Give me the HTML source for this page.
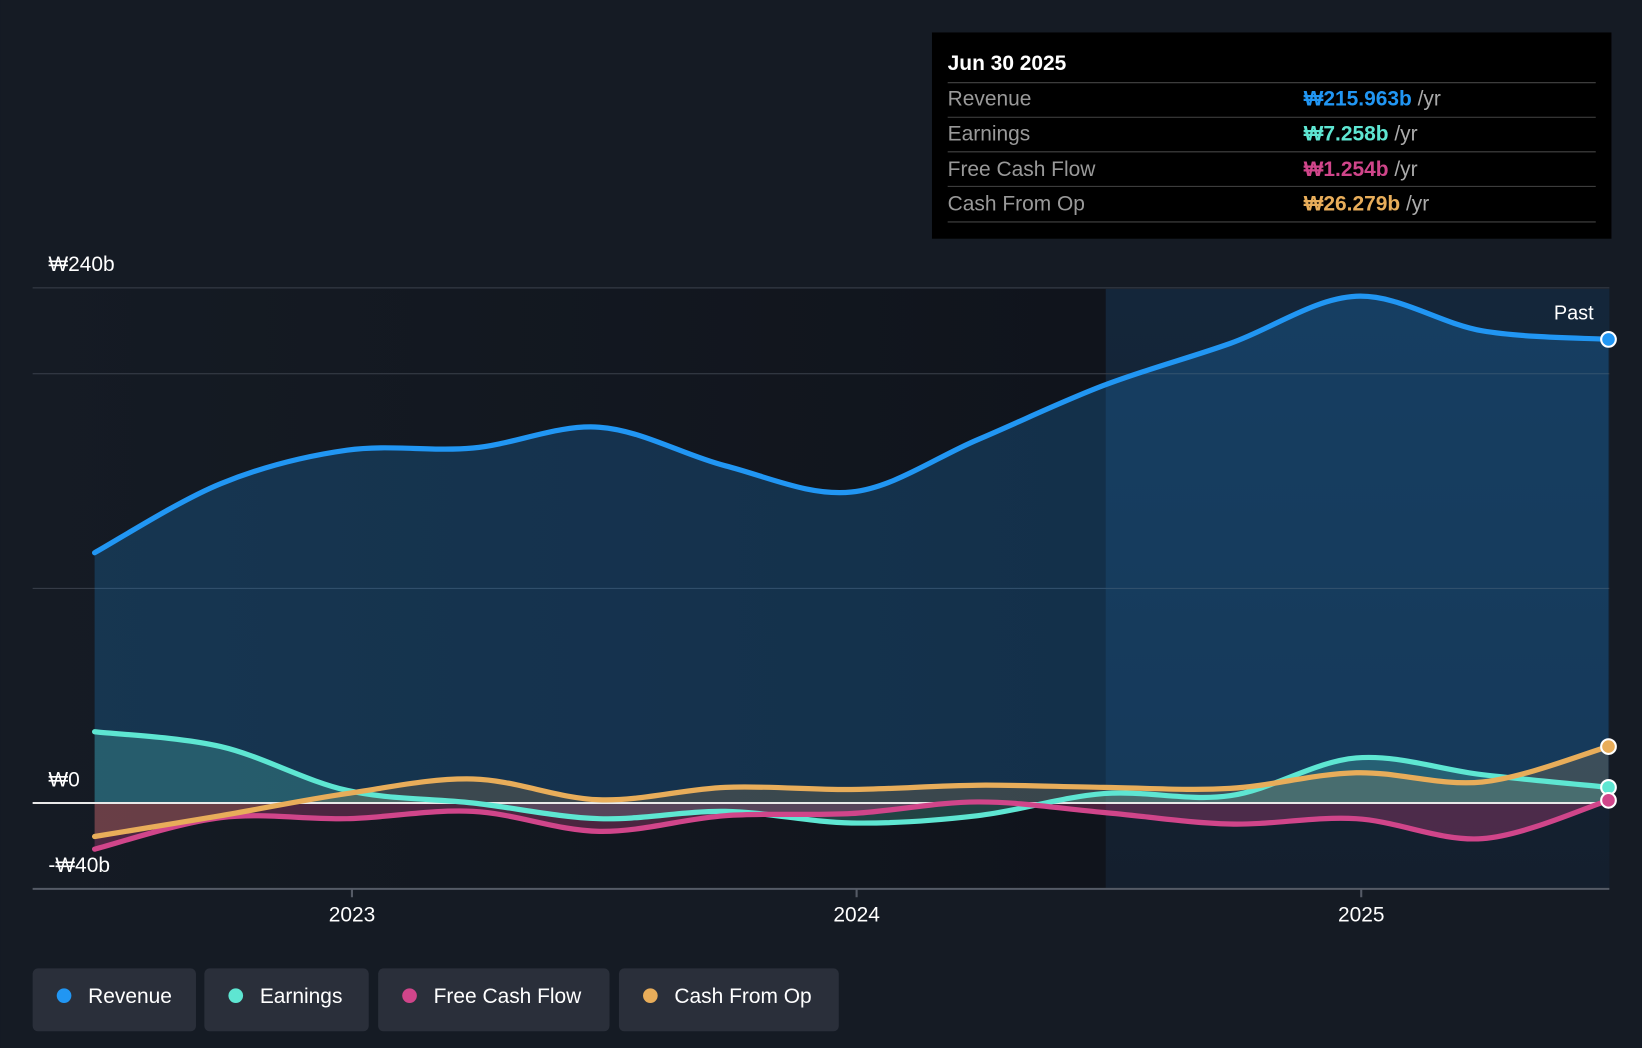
<!DOCTYPE html>
<html><head><meta charset="utf-8"><style>
html,body{margin:0;padding:0;background:#151b24;}
svg{display:block;font-family:"Liberation Sans",sans-serif;}
</style></head><body>
<svg id="chart" width="1642" height="1048" viewBox="0 0 1568 1001" xmlns="http://www.w3.org/2000/svg">
<defs>
<linearGradient id="pastBg" x1="0" x2="0" y1="0" y2="1"><stop offset="0" stop-color="#123150"/><stop offset="1" stop-color="#122338"/></linearGradient>
<linearGradient id="leftBg" x1="0" x2="1" y1="0" y2="0"><stop offset="0" stop-color="#151b24"/><stop offset="1" stop-color="#10141c"/></linearGradient>
</defs>
<rect width="1568" height="1001" fill="#151b24"/>
<rect x="31" y="276" width="1025" height="573" fill="url(#leftBg)"/>
<rect x="1056" y="276" width="481" height="573" fill="url(#pastBg)" opacity="0.5"/>
<g id="grid"></g>
<g id="areas"></g>
<g id="lines"></g>
<g id="axis"></g>
<text x="1522" y="305" fill="#fff" font-size="19" text-anchor="end">Past</text>
<g>
<rect x="890" y="31" width="649" height="197" fill="#000"/>
<text x="905" y="67" fill="#fff" font-size="20" font-weight="bold">Jun 30 2025</text>
<line x1="905" x2="1524" y1="79" y2="79" stroke="#444"/>
<text x="905" y="101" fill="#999" font-size="20">Revenue</text>
<text x="1245" y="101" font-size="20"><tspan fill="#2196f3" font-weight="bold">₩215.963b</tspan><tspan fill="#aaa"> /yr</tspan></text>
<line x1="905" x2="1524" y1="112" y2="112" stroke="#444"/>
<text x="905" y="134" fill="#999" font-size="20">Earnings</text>
<text x="1245" y="134" font-size="20"><tspan fill="#5ee6d2" font-weight="bold">₩7.258b</tspan><tspan fill="#aaa"> /yr</tspan></text>
<line x1="905" x2="1524" y1="145" y2="145" stroke="#444"/>
<text x="905" y="168" fill="#999" font-size="20">Free Cash Flow</text>
<text x="1245" y="168" font-size="20"><tspan fill="#d0458a" font-weight="bold">₩1.254b</tspan><tspan fill="#aaa"> /yr</tspan></text>
<line x1="905" x2="1524" y1="178" y2="178" stroke="#444"/>
<text x="905" y="201" fill="#999" font-size="20">Cash From Op</text>
<text x="1245" y="201" font-size="20"><tspan fill="#e8ad5a" font-weight="bold">₩26.279b</tspan><tspan fill="#aaa"> /yr</tspan></text>
<line x1="905" x2="1524" y1="212" y2="212" stroke="#444"/>
</g>
<g>
<g><rect x="31" y="925" width="156" height="60" rx="5" fill="#2a2f3a"/><circle cx="61" cy="951" r="7" fill="#2196f3"/><text x="84" y="958" fill="#fff" font-size="20">Revenue</text></g>
<g><rect x="195" y="925" width="157" height="60" rx="5" fill="#2a2f3a"/><circle cx="225" cy="951" r="7" fill="#5ee6d2"/><text x="248" y="958" fill="#fff" font-size="20">Earnings</text></g>
<g><rect x="361" y="925" width="221" height="60" rx="5" fill="#2a2f3a"/><circle cx="391" cy="951" r="7" fill="#d0458a"/><text x="414" y="958" fill="#fff" font-size="20">Free Cash Flow</text></g>
<g><rect x="591" y="925" width="210" height="60" rx="5" fill="#2a2f3a"/><circle cx="621" cy="951" r="7" fill="#e8ad5a"/><text x="644" y="958" fill="#fff" font-size="20">Cash From Op</text></g>
</g>
</svg>
<script>
const periods=[2022.49,2022.74,2022.99,2023.24,2023.49,2023.74,2023.99,2024.24,2024.49,2024.74,2024.99,2025.24,2025.49];
const revenue=[116.6,148.8,164.4,165.4,175.1,157.1,144.9,169.3,194.6,214.1,236.1,220,216];
const earnings=[33.2,26.3,5.9,0,-7.3,-3.9,-9.3,-5.9,4.4,3.4,21,13.2,7.3];
const fcf=[-21.5,-6.8,-7.3,-3.9,-13.2,-5.9,-4.9,0.5,-4.4,-9.8,-7.3,-16.6,1.25];
const cfo=[-15.6,-5.9,4.4,11.2,1.5,7.3,6.3,8.3,7.3,6.8,14.1,9.8,26.3];
const yTicks=[240,200,100,0,-40];
const yLabels=[["₩240b",240],["₩0",0],["-₩40b",-40]];
const xTicks=[2023,2024,2025];
const NS="http://www.w3.org/2000/svg";
const x=v=>336+(v-2023)*482;
const y=v=>767-v*2.05;
function mk(tag,attrs,parent){const e=document.createElementNS(NS,tag);for(const k in attrs)e.setAttribute(k,attrs[k]);parent.appendChild(e);return e;}
const grid=document.getElementById('grid'),areas=document.getElementById('areas'),lines=document.getElementById('lines'),axis=document.getElementById('axis');
yTicks.forEach(t=>{const l=mk('line',{x1:31,x2:1537,y1:y(t),y2:y(t),stroke:t===-40?'#555b66':'#3a404b','stroke-width':t===-40?2:1},grid);

});
yLabels.forEach(([s,v])=>{const t=mk('text',{x:46,y:y(v)-16,fill:'#fff','font-size':20},axis);t.textContent=s;

});
xTicks.forEach(v=>{const l=mk('line',{x1:x(v),x2:x(v),y1:849,y2:857,stroke:'#555b66','stroke-width':2},axis);


const t=mk('text',{x:x(v),y:880,fill:'#fff','font-size':20,'text-anchor':'middle'},axis);t.textContent=v;

});
function path(vals){const p=vals.map((v,i)=>[x(periods[i]),y(v)]);let d=`M${p[0][0]},${p[0][1]}`;
for(let i=0;i<p.length-1;i++){const p0=p[Math.max(0,i-1)],p1=p[i],p2=p[i+1],p3=p[Math.min(p.length-1,i+2)];
const c1=[p1[0]+(p2[0]-p0[0])/6,p1[1]+(p2[1]-p0[1])/6],c2=[p2[0]-(p3[0]-p1[0])/6,p2[1]-(p3[1]-p1[1])/6];
d+=`C${c1[0]},${c1[1]} ${c2[0]},${c2[1]} ${p2[0]},${p2[1]}`;}return d;}
const series=[["revenue",revenue,"#2196f3","rgba(33,150,243,0.22)"],["earnings",earnings,"#5ee6d2","rgba(94,230,210,0.22)"],["free-cash-flow",fcf,"#d0458a","rgba(208,69,138,0.3)"],["cash-from-op",cfo,"#e8ad5a","rgba(232,173,90,0.18)"]];
series.forEach(([n,vals,col,fill])=>{const d=path(vals);const x0=x(periods[0]),x1=x(periods[periods.length-1]);
const a=mk('path',{d:d+`L${x1},${y(0)}L${x0},${y(0)}Z`,fill:fill},areas);


const l=mk('path',{d:d,fill:'none',stroke:col,'stroke-width':5,'stroke-linecap':'round'},lines);


const c=mk('circle',{cx:x1,cy:y(vals[vals.length-1]),r:7,fill:col,stroke:'#fff','stroke-width':2},lines);

});
const z=mk('line',{x1:31,x2:1537,y1:y(0),y2:y(0),stroke:'#e8e8e8','stroke-width':2},lines);


lines.insertBefore(z,lines.firstChild);
</script>
</body></html>
